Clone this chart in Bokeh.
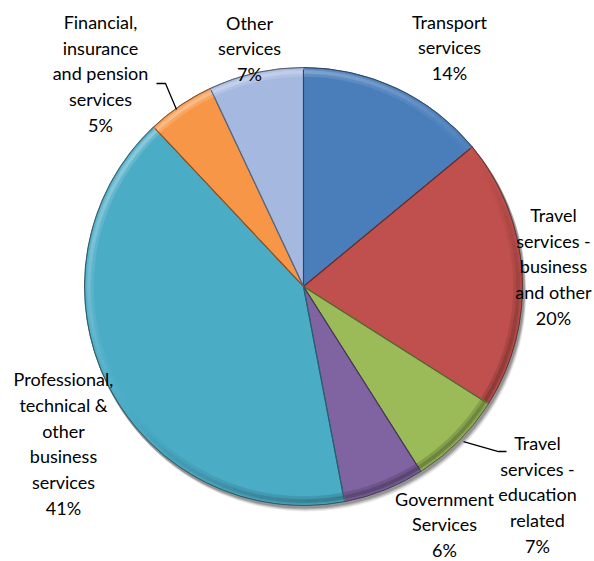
import numpy as np
from bokeh.plotting import figure
from bokeh.models import Range1d, ColumnDataSource
from bokeh.core.properties import value
from bokeh.embed import file_html
from bokeh.resources import INLINE

# ---- data ----
categories = [
    "Transport\nservices",
    "Travel\nservices -\nbusiness\nand other",
    "Travel\nservices -\neducation\nrelated",
    "Government\nServices",
    "Professional,\ntechnical &\nother\nbusiness\nservices",
    "Financial,\ninsurance\nand pension\nservices",
    "Other\nservices",
]
shares = [14, 20, 7, 6, 41, 5, 7]
colors = ["#4A7EBB", "#C0504D", "#9BBB59", "#8064A2", "#4BACC6", "#F79646", "#A5B8E0"]

# ---- layout ----
W, H = 594, 561
def X(px):
    return px
def Y(py):
    return H - py

CX, CY, R = X(303), Y(286), 219
label_pos = [(449, 47), (553, 266), (537, 494), (444, 524), (63, 443), (100, 73), (249, 48)]

def mix(c, t, f):
    c = c.lstrip("#")
    r, g, b = int(c[0:2], 16), int(c[2:4], 16), int(c[4:6], 16)
    tv = 255 if t == "w" else 0
    r, g, b = [int(round(v + (tv - v) * f)) for v in (r, g, b)]
    return "#%02x%02x%02x" % (r, g, b)

p = figure(width=W, height=H, x_range=Range1d(0, W), y_range=Range1d(0, H),
           output_backend="svg", toolbar_location=None, min_border=0)
p.axis.visible = False
p.grid.visible = False
p.outline_line_color = None
p.background_fill_color = "white"
p.border_fill_color = "white"

# soft shadow
for k, a in [(5, 0.08), (4, 0.10), (3, 0.14), (2, 0.18)]:
    p.circle(x=[CX + k * 0.6], y=[CY - k], radius=R + 1, fill_color="black",
             fill_alpha=a, line_color=None)

total = float(sum(shares))
cum = np.cumsum([0] + shares) / total
starts = np.pi / 2 - 2 * np.pi * cum[:-1]
ends = np.pi / 2 - 2 * np.pi * cum[1:]

src = ColumnDataSource(dict(start=starts, end=ends, color=colors,
                            edge=[mix(c, "k", 0.35) for c in colors]))
p.wedge(x=CX, y=CY, radius=R, start_angle="start", end_angle="end",
        direction="clock", fill_color="color", line_color="edge", line_width=1,
        source=src)

# bevel rim shading (angle-dependent lighting from upper-left)
light = np.deg2rad(125)
for s, e, c in zip(starts, ends, colors):
    n = max(2, int(np.degrees(s - e) / 2.5))
    angs = np.linspace(s, e, n + 1)
    ss, ee, cc, cc2 = [], [], [], []
    for a0, a1 in zip(angs[:-1], angs[1:]):
        am = 0.5 * (a0 + a1)
        l = np.cos(am - light)
        if l > 0:
            cc.append(mix(c, "w", 0.35 * l))
            cc2.append(mix(c, "w", 0.15 * l))
        else:
            cc.append(mix(c, "k", 0.30 * -l))
            cc2.append(mix(c, "k", 0.15 * -l))
        ss.append(a0 + 0.002)
        ee.append(a1 - 0.002)
    p.annular_wedge(x=CX, y=CY, inner_radius=R - 9, outer_radius=R - 1.5,
                    start_angle=ss, end_angle=ee, direction="clock",
                    fill_color=cc2, line_color=cc2, line_width=0.5)
    p.annular_wedge(x=CX, y=CY, inner_radius=R - 6, outer_radius=R - 3,
                    start_angle=ss, end_angle=ee, direction="clock",
                    fill_color=cc, line_color=cc, line_width=0.5)

# radial edges
for s, c in zip(starts, colors):
    xs = [CX, CX + (R - 2) * np.cos(s)]
    ys = [CY, CY + (R - 2) * np.sin(s)]
    p.line(xs, ys, line_color=mix(c, "k", 0.45), line_width=1.2)

# outer edge
p.circle(x=[CX], y=[CY], radius=R, fill_color=None, line_color="#3a3a3a",
         line_alpha=0.45, line_width=1)

# leader lines
p.line([X(156), X(165), X(176)], [Y(83), Y(83), Y(109)], line_color="black", line_width=1.3)
p.line([X(463), X(498), X(506)], [Y(441), Y(451), Y(451)], line_color="black", line_width=1.3)

# labels
texts = [f"{c}\n{v}%" for c, v in zip(categories, shares)]
lsrc = ColumnDataSource(dict(x=[X(a) for a, b in label_pos], y=[Y(b) for a, b in label_pos],
                             t=texts))
p.text(x="x", y="y", text="t", source=lsrc, text_font=value("Lato"),
       text_font_size="18px", text_align="center", text_baseline="middle",
       text_line_height=1.17, text_color="black")

open("out.html", "w").write(file_html(p, INLINE))
